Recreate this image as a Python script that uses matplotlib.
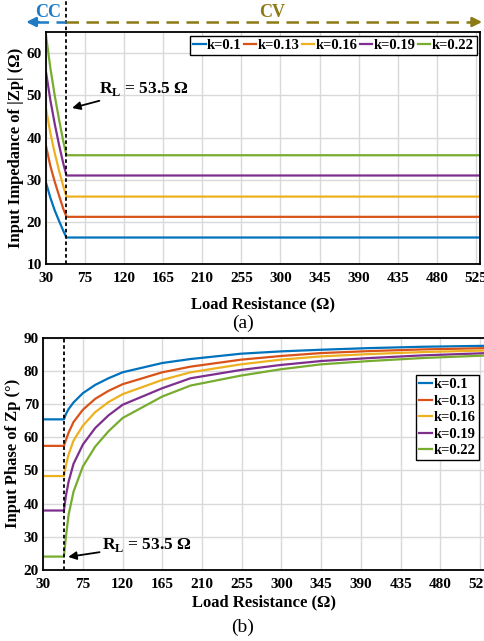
import matplotlib
matplotlib.use("Agg")
import matplotlib.pyplot as plt
from matplotlib.lines import Line2D

plt.rcParams['font.family'] = ['Liberation Serif', 'DejaVu Serif']
plt.rcParams['font.weight'] = 'bold'
plt.rcParams['mathtext.fontset'] = 'custom'
plt.rcParams['mathtext.rm'] = 'Liberation Serif:bold'
plt.rcParams['mathtext.bf'] = 'Liberation Serif:bold'

# ---- data ----
k_labels = ['k=0.1', 'k=0.13', 'k=0.16', 'k=0.19', 'k=0.22']
colors = ['#0072BD', '#D95319', '#EDB120', '#7E2F8E', '#77AC30']
x_ticks = [30, 75, 120, 165, 210, 255, 300, 345, 390, 435, 480, 525]
R_switch = 53.5

# (a) |Zp| vs load resistance
R_mag = [30, 35, 40, 45, 50, 53.5, 535]
zp_k010 = [29.2, 25.7, 22.7, 20.2, 17.8, 16.3, 16.3]
zp_k013 = [37.9, 33.2, 29.5, 26.2, 23.0, 21.2, 21.2]
zp_k016 = [46.7, 41.0, 36.3, 32.1, 28.3, 26.0, 26.0]
zp_k019 = [55.4, 48.8, 43.2, 38.2, 33.7, 31.0, 31.0]
zp_k022 = [64.0, 56.4, 49.9, 44.2, 38.9, 35.8, 35.8]

# (b) phase of Zp vs load resistance
R_ph = [30, 53.5, 55.8, 58.8, 64.4, 75, 89, 104, 120, 165, 197, 254, 299, 345, 400, 460, 535]
ph_k010 = [65.4, 65.4, 67.0, 68.5, 70.5, 73.3, 75.8, 77.8, 79.6, 82.4, 83.6, 85.2, 85.9, 86.4, 86.9, 87.3, 87.6]
ph_k013 = [57.4, 57.4, 59.2, 61.4, 64.6, 68.3, 71.6, 74.0, 76.0, 79.6, 81.3, 83.4, 84.5, 85.4, 86.0, 86.5, 86.9]
ph_k016 = [48.3, 48.3, 51.5, 54.8, 59.0, 63.5, 67.6, 70.6, 73.0, 77.3, 79.6, 82.0, 83.4, 84.4, 85.1, 85.7, 86.2]
ph_k019 = [37.9, 37.9, 42.4, 46.6, 52.0, 57.8, 62.8, 66.6, 69.8, 74.8, 77.8, 80.3, 81.8, 83.0, 83.9, 84.7, 85.4]
ph_k022 = [24.0, 24.0, 30.0, 36.6, 43.6, 51.2, 57.2, 61.8, 65.8, 72.3, 75.6, 78.6, 80.5, 82.0, 83.0, 83.9, 84.7]

mag_series = [zp_k010, zp_k013, zp_k016, zp_k019, zp_k022]
ph_series = [ph_k010, ph_k013, ph_k016, ph_k019, ph_k022]

fig = plt.figure(figsize=(4.85, 6.41), dpi=100)
ax1 = fig.add_axes([0.095, 0.588, 0.895, 0.362])
ax2 = fig.add_axes([0.089, 0.111, 0.910, 0.362])


def style(ax, ylim, yticks, xlabelpad):
    ax.set_xlim(30, 530)
    ax.set_ylim(*ylim)
    ax.set_xticks(x_ticks)
    ax.set_yticks(yticks)
    ax.grid(True, color='#d9d9d9', lw=1.0)
    ax.set_axisbelow(True)
    ax.tick_params(direction='in', length=0, labelsize=11)
    ax.tick_params(axis='x', pad=6)
    ax.tick_params(axis='y', pad=3)
    for lab in ax.get_xticklabels() + ax.get_yticklabels():
        lab.set_fontweight('bold')
    for sp in ax.spines.values():
        sp.set_linewidth(1.3)
    ax.set_xlabel('Load Resistance (Ω)', fontsize=12, fontweight='bold', labelpad=xlabelpad)


def leg_style(leg):
    leg.get_frame().set_linewidth(1.0)
    for t in leg.get_texts():
        t.set_fontweight('bold')


# ---- (a) ----
for vals, c, lab in zip(mag_series, colors, k_labels):
    ax1.plot(R_mag, vals, color=c, lw=1.6, label=lab)
style(ax1, (10, 65), [10, 20, 30, 40, 50, 60], 8)
ax1.set_ylabel('Input Impedance of |Zp| (Ω)', fontsize=12, fontweight='bold', labelpad=2)
ax1.axvline(R_switch, ymin=0, ymax=1.16, color='black', ls=(0, (2, 1.5)), lw=1.3, clip_on=False)
leg1 = ax1.legend(loc='upper right', ncol=5, fontsize=10.5, handlelength=0.85, handletextpad=0.1,
                  columnspacing=0.15, borderpad=0.2, borderaxespad=0.25, fancybox=False,
                  edgecolor='black', framealpha=1)
leg_style(leg1)
ax1.annotate(r'R$_{\mathrm{L}}$ = 53.5 Ω', xy=(60, 47), xytext=(91, 51.5),
             fontsize=12.5, fontweight='bold', va='center',
             arrowprops=dict(arrowstyle='-|>', color='black', lw=1.3, mutation_scale=12,
                             shrinkA=0, shrinkB=0))

# CC / CV arrows above the top plot (figure fraction coords)
y_arr = 1 - 22 / 641
x_div = 66 / 485
cc_col = '#1F7BC4'
cv_col = '#8C7A17'
fig.add_artist(Line2D([0.075, x_div], [y_arr, y_arr], transform=fig.transFigure,
                      color=cc_col, lw=1.8, ls=(0, (5, 3))))
fig.add_artist(Line2D([x_div, 0.975], [y_arr, y_arr], transform=fig.transFigure,
                      color=cv_col, lw=1.8, ls=(0, (5, 3))))
fig.add_artist(matplotlib.patches.FancyArrowPatch((0.080, y_arr), (0.054, y_arr),
               transform=fig.transFigure, arrowstyle='-|>', mutation_scale=14,
               color=cc_col, lw=1.8, shrinkA=0, shrinkB=0))
fig.add_artist(matplotlib.patches.FancyArrowPatch((0.970, y_arr), (0.994, y_arr),
               transform=fig.transFigure, arrowstyle='-|>', mutation_scale=14,
               color=cv_col, lw=1.8, shrinkA=0, shrinkB=0))
fig.text(0.100, 0.981, 'CC', color=cc_col, fontsize=13, fontweight='bold', ha='center', va='center')
fig.text(0.561, 0.981, 'CV', color=cv_col, fontsize=13, fontweight='bold', ha='center', va='center')

# ---- (b) ----
for vals, c, lab in zip(ph_series, colors, k_labels):
    ax2.plot(R_ph, vals, color=c, lw=1.6, label=lab)
style(ax2, (20, 90), [20, 30, 40, 50, 60, 70, 80, 90], 2)
ax2.set_ylabel('Input Phase of Zp (°)', fontsize=12, fontweight='bold', labelpad=2)
ax2.axvline(R_switch, color='black', ls=(0, (2, 1.5)), lw=1.3)
leg2 = ax2.legend(loc='upper right', bbox_to_anchor=(1.004, 0.87), fontsize=10.5, handlelength=0.9,
                  handletextpad=0.12, labelspacing=0.22, borderpad=0.2, fancybox=False,
                  edgecolor='black', framealpha=1)
leg_style(leg2)
ax2.annotate(r'R$_{\mathrm{L}}$ = 53.5 Ω', xy=(58.4, 23.9), xytext=(97, 27.5),
             fontsize=12.5, fontweight='bold', va='center',
             arrowprops=dict(arrowstyle='-|>', color='black', lw=1.3, mutation_scale=12,
                             shrinkA=0, shrinkB=0))

fig.text(0.501, 0.495, '(a)', fontsize=14, fontweight='normal', ha='center', va='center')
fig.text(0.501, 0.022, '(b)', fontsize=14, fontweight='normal', ha='center', va='center')

fig.savefig('out.png', dpi=100)
